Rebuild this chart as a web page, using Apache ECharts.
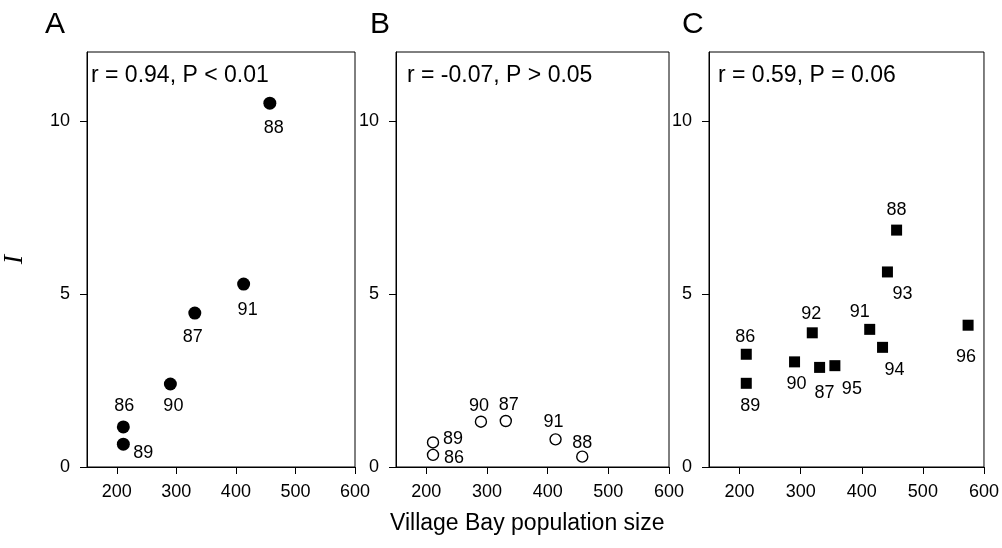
<!DOCTYPE html>
<html>
<head>
<meta charset="utf-8">
<script src="https://cdn.jsdelivr.net/npm/echarts@6/dist/echarts.min.js"></script>
<style>
  html, body { margin: 0; padding: 0; background: #fff; }
  #chart { width: 1002px; height: 548px; }
</style>
</head>
<body>
<div id="chart"></div>
<script>
// 年份 与 Village Bay 种群数量 (三个面板共用)
var years = ['86', '87', '88', '89', '90', '91', '92', '93', '94', '95', '96'];
var popSize = [211, 331, 457, 211, 290, 413, 319, 442, 434, 356, 574];

// 各面板 I 值 (A, B 只有 86-91)
var valuesA = [1.16, 4.45, 10.52, 0.66, 2.40, 5.29];
var valuesB = [0.35, 1.33, 0.30, 0.71, 1.31, 0.80];
var valuesC = [3.26, 2.88, 6.85, 2.42, 3.04, 3.98, 3.88, 5.64, 3.46, 2.93, 4.10];

var panelLetters = ['A', 'B', 'C'];
var statsText = ['r = 0.94, P < 0.01', 'r = -0.07, P > 0.05', 'r = 0.59, P = 0.06'];
var xTicks = [200, 300, 400, 500, 600];
var yTicks = [0, 5, 10];

// 年份标签相对点的偏移 (像素)
var offsetsA = [[1, -21], [-2, 24], [4, 25], [20, 9], [3, 22], [4, 26]];
var offsetsB = [[21, 3], [3, -16], [0, -14], [20, -3], [-2, -16], [-2, -17]];
var offsetsC = [[-1, -17], [5, 26], [0, -20], [4, 23], [2, 22], [-10, -17],
                [-1, -19], [15, 22], [12, 23], [17, 23], [-2, 32]];

var font = 'Liberation Sans';

function buildData(vals, offsets) {
    return vals.map(function (v, i) {
        return {
            value: [popSize[i], v, years[i]],
            label: { offset: offsets[i] }
        };
    });
}

var grids = [
    { left: 80, right: 647, top: 52, bottom: 81 },
    { left: 396, right: 333, top: 52, bottom: 81 },
    { left: 709, right: 18, top: 52, bottom: 81 }
].map(function (g) {
    g.show = true;
    g.borderColor = '#000';
    g.borderWidth = 1;
    g.backgroundColor = 'transparent';
    return g;
});

var xAxes = [0, 1, 2].map(function (i) {
    return {
        type: 'value', gridIndex: i, min: 150, max: 600,
        axisLine: { show: true, onZero: false, lineStyle: { color: '#000', width: 1 } },
        axisTick: { show: true, inside: false, length: 7, customValues: xTicks, lineStyle: { color: '#000' } },
        axisLabel: { customValues: xTicks, margin: 16, color: '#000', fontFamily: font, fontSize: 18 },
        splitLine: { show: false }
    };
});

var yAxes = [0, 1, 2].map(function (i) {
    var ax = {
        type: 'value', gridIndex: i, min: 0, max: 12,
        axisLine: { show: true, onZero: false, lineStyle: { color: '#000', width: 1 } },
        axisTick: { show: true, inside: false, length: 7, customValues: yTicks, lineStyle: { color: '#000' } },
        axisLabel: { customValues: yTicks, margin: 17, color: '#000', fontFamily: font, fontSize: 18 },
        splitLine: { show: false }
    };
    if (i === 0) {
        ax.name = 'I';
        ax.nameLocation = 'middle';
        ax.nameRotate = 90;
        ax.nameGap = 58;
        ax.nameTextStyle = { fontFamily: 'Liberation Serif', fontStyle: 'italic', fontSize: 28, color: '#000' };
    }
    return ax;
});

var labelStyle = {
    show: true,
    position: 'inside',
    formatter: function (p) { return p.value[2]; },
    color: '#000',
    fontFamily: font,
    fontSize: 18
};

var series = [
    {
        type: 'scatter', xAxisIndex: 0, yAxisIndex: 0,
        symbol: 'circle', symbolSize: 13,
        itemStyle: { color: '#000', opacity: 1 },
        label: labelStyle,
        data: buildData(valuesA, offsetsA)
    },
    {
        type: 'scatter', xAxisIndex: 1, yAxisIndex: 1,
        symbol: 'circle', symbolSize: 11,
        itemStyle: { color: '#fff', borderColor: '#000', borderWidth: 1.4, opacity: 1 },
        label: labelStyle,
        data: buildData(valuesB, offsetsB)
    },
    {
        type: 'scatter', xAxisIndex: 2, yAxisIndex: 2,
        symbol: 'rect', symbolSize: 11,
        itemStyle: { color: '#000', opacity: 1 },
        label: labelStyle,
        data: buildData(valuesC, offsetsC)
    }
];

var letterX = [45, 370, 682];
var statsX = [91, 407, 718];
var graphics = [];
panelLetters.forEach(function (t, i) {
    graphics.push({
        type: 'text', left: letterX[i], top: 10,
        style: { text: t, fill: '#000', font: '30px "' + font + '"' }
    });
    graphics.push({
        type: 'text', left: statsX[i], top: 64,
        style: { text: statsText[i], fill: '#000', font: '23px "' + font + '"' }
    });
});
graphics.push({
    type: 'text', left: 390, top: 512,
    style: { text: 'Village Bay population size', fill: '#000', font: '23px "' + font + '"' }
});

var chart = echarts.init(document.getElementById('chart'), null, { renderer: 'canvas' });
chart.setOption({
    animation: false,
    backgroundColor: '#fff',
    grid: grids,
    xAxis: xAxes,
    yAxis: yAxes,
    series: series,
    graphic: graphics
});
</script>
</body>
</html>
